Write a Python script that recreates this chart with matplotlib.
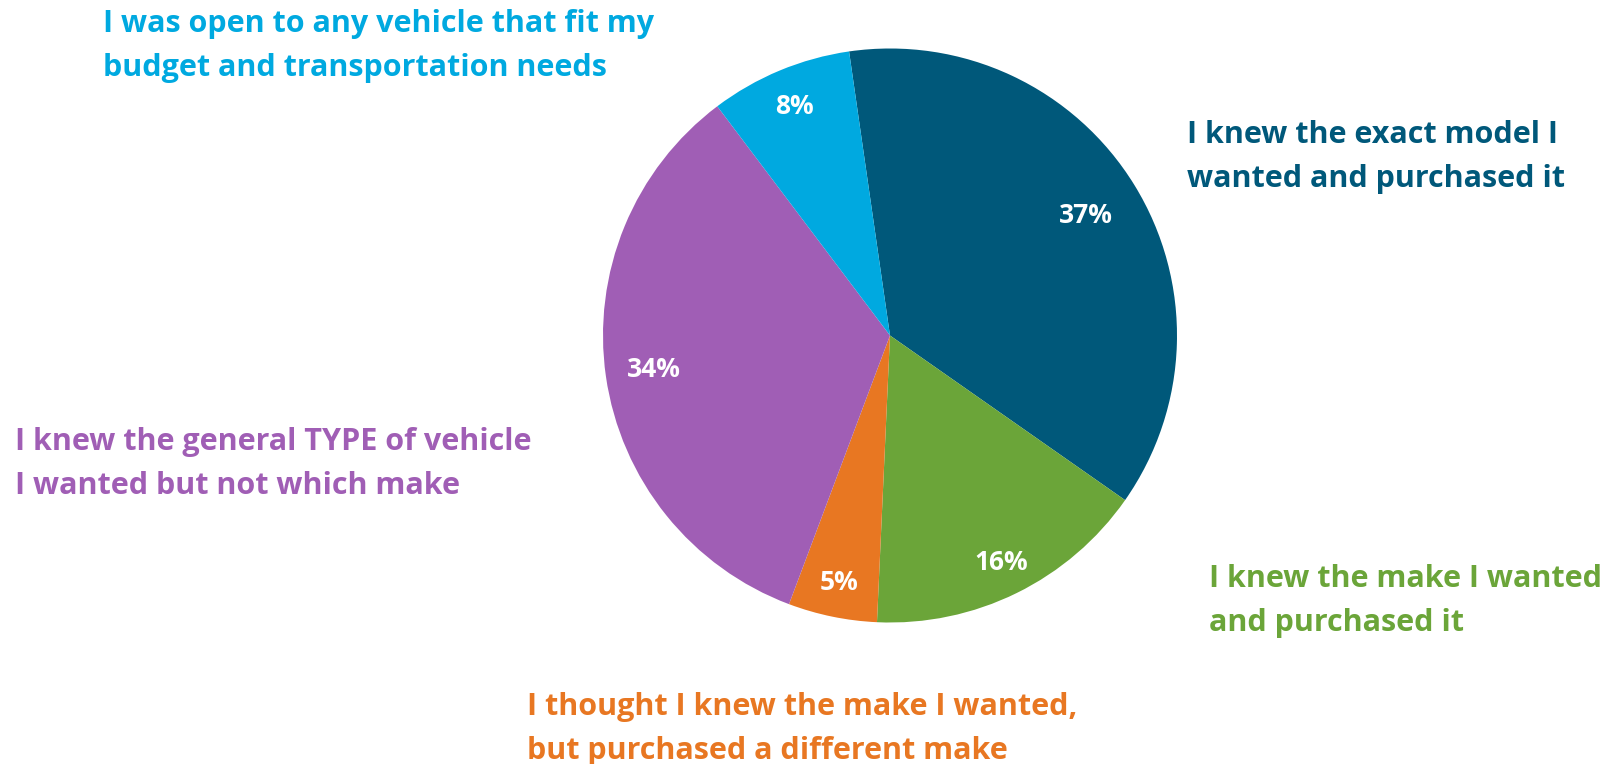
import matplotlib
matplotlib.use("Agg")
import matplotlib.pyplot as plt
import numpy as np

categories = [
    ["I knew the exact model I", "wanted and purchased it"],
    ["I knew the make I wanted", "and purchased it"],
    ["I thought I knew the make I wanted,", "but purchased a different make"],
    ["I knew the general TYPE of vehicle", "I wanted but not which make"],
    ["I was open to any vehicle that fit my", "budget and transportation needs"],
]
values = [37, 16, 5, 34, 8]
colors = ["#00587A", "#6BA539", "#E87722", "#A05EB5", "#00A9E0"]

W, H = 1614, 764
fig = plt.figure(figsize=(W / 100, H / 100), dpi=100)
ax = fig.add_axes([0, 0, 1, 1])

font = "Open Sans"
cx, cy, r = 890, H - 335.5, 287
wedges, texts, autotexts = ax.pie(
    values, colors=colors, startangle=98.2, counterclock=False,
    center=(cx, cy), radius=r, autopct="%d%%", pctdistance=0.84,
    wedgeprops=dict(linewidth=0), frame=True,
)
pct_dist = [0.80, 0.88, 0.88, 0.83, 0.865]
for t, w, d in zip(autotexts, wedges, pct_dist):
    ang = np.deg2rad((w.theta1 + w.theta2) / 2)
    t.set_position((cx + d * r * np.cos(ang), cy + d * r * np.sin(ang)))
    t.set_color("white")
    t.set_fontsize(19)
    t.set_fontweight("bold")
    t.set_fontfamily(font)
ax.set_xlim(0, W)
ax.set_ylim(0, H)
ax.set_aspect("equal")
ax.axis("off")

# label anchor positions (left x, first baseline y in pixels from top)
label_pos = [(1187, 143), (1209, 587), (527, 715), (15, 450), (103, 32)]
line_gap = 44
for lines, (x, y), c in zip(categories, label_pos, colors):
    for i, ln in enumerate(lines):
        ax.text(x, H - (y + i * line_gap), ln, color=c, fontsize=22,
                fontweight="bold", fontfamily=font, ha="left", va="baseline")

fig.savefig("out.png", dpi=100)
